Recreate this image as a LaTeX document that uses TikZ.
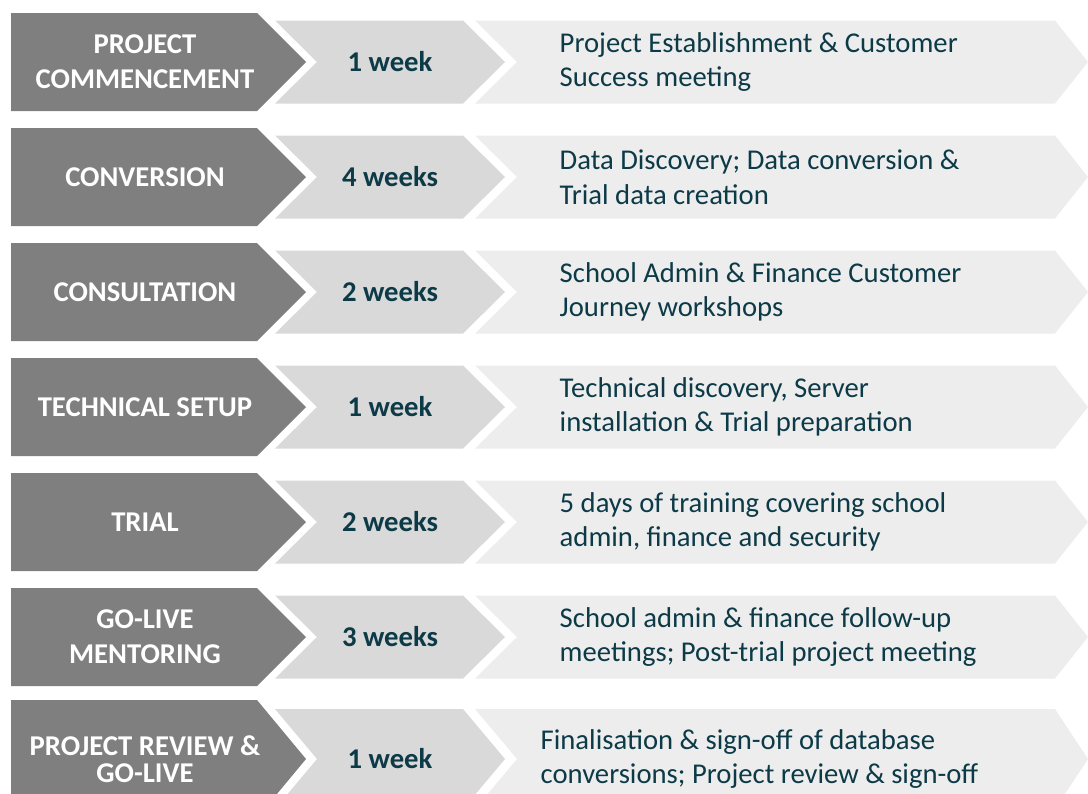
\documentclass[tikz,border=0pt]{standalone}
\usepackage{fontspec}
\setmainfont{Carlito}
\definecolor{phasegray}{HTML}{7F7F7F}
\definecolor{weekgray}{HTML}{D9D9D9}
\definecolor{taskgray}{HTML}{EDEDED}
\definecolor{darkteal}{HTML}{0C3A47}
\tikzset{
  phasetext/.style={text=white,font=\bfseries\fontsize{21.5}{26}\selectfont,align=center},
  weektext/.style={text=darkteal,font=\bfseries\fontsize{21.5}{26}\selectfont},
  tasktext/.style={text=darkteal,font=\fontsize{21.5}{26}\selectfont,align=left,anchor=west}
}
% #1 row name, #2 middle y, #3 half height (phase), #4 half height (rest),
% #5 phase, #6 duration, #7 tasks, #8 x of tasks
\newcommand{\planrow}[8]{%
  \fill[phasegray] (11,#2-#3) -- (257,#2-#3) -- (306,#2) -- (257,#2+#3) -- (11,#2+#3) -- cycle;
  \fill[weekgray] (275,#2-#4) -- (463,#2-#4) -- (505,#2) -- (463,#2+#4) -- (275,#2+#4) -- (317,#2) -- cycle;
  \fill[taskgray] (475,#2-#4) -- (1055,#2-#4) -- (1088,#2) -- (1055,#2+#4) -- (475,#2+#4) -- (517,#2) -- cycle;
  \node[phasetext] (phase#1) at (145,#2) {#5};
  \node[weektext] (week#1) at (390,#2) {#6};
  \node[tasktext] (task#1) at (#8,#2) {#7};
}

\begin{document}
\begin{tikzpicture}[x=0.75pt,y=-0.75pt]
\useasboundingbox (0,0) rectangle (1088,793);

\planrow{1}{62}{49}{41.5}{PROJECT\\COMMENCEMENT}{1 week}{Project Establishment \& Customer\\Success meeting}{555}
\planrow{2}{177}{49}{41.5}{CONVERSION}{4 weeks}{Data Discovery; Data conversion \&\\Trial data creation}{555}
\planrow{3}{292}{49}{41.5}{CONSULTATION}{2 weeks}{School Admin \& Finance Customer\\Journey workshops}{555}
\planrow{4}{407}{49}{41.5}{TECHNICAL SETUP}{1 week}{Technical discovery, Server\\installation \& Trial preparation}{555}
\planrow{5}{522}{49}{41.5}{TRIAL}{2 weeks}{5 days of training covering school\\admin, finance and security}{555}
\planrow{6}{637}{49}{41.5}{GO-LIVE\\MENTORING}{3 weeks}{School admin \& finance follow-up\\meetings; Post-trial project meeting}{555}
\planrow{7}{759}{59}{50}{PROJECT REVIEW \&\\[-6pt]GO-LIVE}{1 week}{Finalisation \& sign-off of database\\conversions; Project review \& sign-off}{536}

\end{tikzpicture}
\end{document}
